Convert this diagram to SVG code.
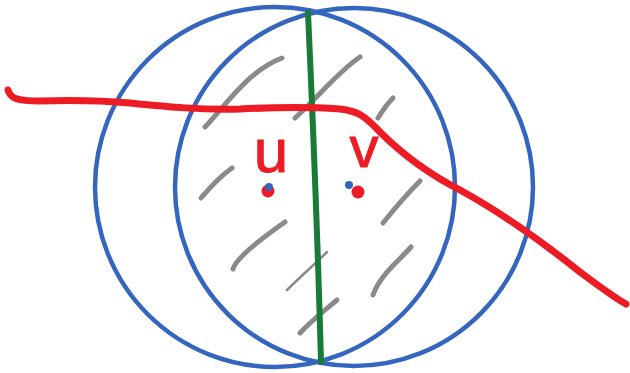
<svg xmlns="http://www.w3.org/2000/svg" width="630" height="373" viewBox="0 0 630 373">
<style>
.circ{fill:none;stroke:#3566bf;stroke-width:4.5}
.hatch{fill:none;stroke:#8a8a8a;stroke-width:5;stroke-linecap:round}
.thin{stroke-width:2.5}
.lbl{font-family:"Liberation Sans",Arial,sans-serif;fill:#ed1c24;stroke:#ed1c24;stroke-width:1;text-anchor:middle}
.dotr{fill:#ed1c24}
.dotb{fill:#3566bf}
</style>
<rect width="630" height="373" fill="#ffffff"/>
<g id="hatching">
<path class="hatch" d="M205,127 C230,100 250,70 282,58"/>
<path class="hatch" d="M295,118 C320,95 340,70 360,57"/>
<path class="hatch" d="M378,118 C384,108 388,103 393,98"/>
<path class="hatch" d="M201,198 C212,185 222,175 232,168"/>
<path class="hatch" d="M233,269 C236,258 265,236 285,222"/>
<path class="hatch" d="M383,223 C395,208 408,193 420,181"/>
<path class="hatch thin" d="M287,290 C300,277 314,265 327,252"/>
<path class="hatch" d="M373,295 C380,275 398,262 411,247"/>
<path class="hatch" d="M300,333 C312,320 325,310 337,300"/>
</g>
<g id="circle-left"><circle class="circ" cx="275" cy="187" r="180"/></g>
<g id="circle-right"><circle class="circ" cx="354" cy="187" r="179"/></g>
<g id="connectors">
<path id="green-line" d="M308,13 C312,100 318,250 321,362" fill="none" stroke="#1a7a38" stroke-width="6" stroke-linecap="round"/>
<path id="red-curve" d="M8,90 C10,98 16,101 40,101 C70,100 95,100 130,103 C170,107 200,110 240,109 C280,107 310,107 340,109 C358,111 365,116 380,132 C400,152 425,172 460,190 C500,212 540,240 580,272 C600,287 615,298 626,304" fill="none" stroke="#ed1c24" stroke-width="7" stroke-linecap="round" stroke-linejoin="round"/>
</g>
<g id="node-u">
<text class="lbl" x="271" y="172" font-size="62">u</text>
<circle class="dotr" cx="268" cy="191" r="6.5"/>
<circle class="dotb" cx="269" cy="187" r="4"/>
</g>
<g id="node-v">
<text class="lbl" x="364" y="167" font-size="58">v</text>
<circle class="dotr" cx="358" cy="192" r="6.5"/>
<circle class="dotb" cx="349" cy="185" r="4"/>
</g>
</svg>
